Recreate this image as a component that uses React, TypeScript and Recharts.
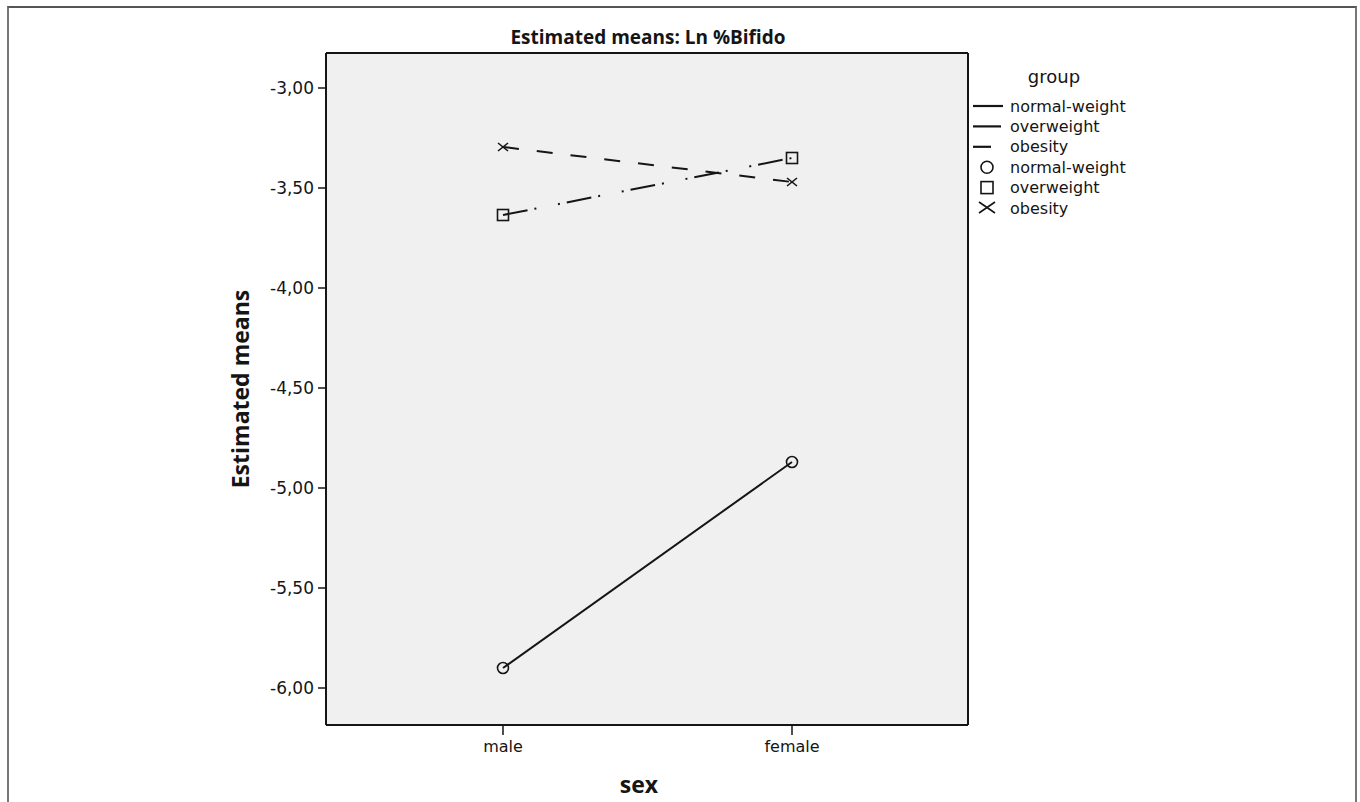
import React from 'react';
import { LineChart, Line, XAxis, YAxis, CartesianGrid } from 'recharts';

// values
const sexes = ['male', 'female'];
const normalWeight = [-5.9, -4.87];
const overweight = [-3.635, -3.35];
const obesity = [-3.295, -3.47];
const yTicks = [-6, -5.5, -5, -4.5, -4, -3.5, -3];
const groups = ['normal-weight', 'overweight', 'obesity'];

const INK = '#151515';
const FONT = '"DejaVu Sans", Verdana, sans-serif';
const BOLD = '"Open Sans", "DejaVu Sans", sans-serif';

const data = sexes.map((sex, i) => ({
  sex,
  normal: normalWeight[i],
  over: overweight[i],
  obese: obesity[i],
}));

const dashes = ['', '25 7 2 22 2 7', '16 18'];

function CircleDot(props: any) {
  const { cx, cy } = props;
  if (cx == null || cy == null) return null;
  return <circle cx={cx} cy={cy} r={5.5} fill="none" stroke={INK} strokeWidth={1.6} />;
}

function SquareDot(props: any) {
  const { cx, cy } = props;
  if (cx == null || cy == null) return null;
  return <rect x={cx - 5.5} y={cy - 5.5} width={11} height={11} fill="none" stroke={INK} strokeWidth={1.6} />;
}

function CrossDot(props: any) {
  const { cx, cy } = props;
  if (cx == null || cy == null) return null;
  return (
    <g stroke={INK} strokeWidth={1.6}>
      <line x1={cx - 5} y1={cy - 4} x2={cx + 5} y2={cy + 4} />
      <line x1={cx - 5} y1={cy + 4} x2={cx + 5} y2={cy - 4} />
    </g>
  );
}

const fmt = (v: number) => v.toFixed(2).replace('.', ',');

function LegendBox() {
  const rowY = (i: number) => 106 + i * 20.4;
  return (
    <svg width={220} height={240} style={{ position: 'absolute', left: 960, top: 0 }}>
      <text x={94} y={76} textAnchor="middle" dominantBaseline="central" fontFamily={FONT} fontSize={18} fill={INK}>
        group
      </text>
      {groups.map((g, i) => (
        <g key={'l' + g}>
          <line
            x1={13}
            x2={i === 2 ? 31 : i === 1 ? 41 : 43}
            y1={rowY(i)}
            y2={rowY(i)}
            stroke={INK}
            strokeWidth={2.2}
            strokeDasharray={i === 1 ? '28 4 2 30' : undefined}
          />
          <text x={50} y={rowY(i)} dominantBaseline="central" fontFamily={FONT} fontSize={16} fill={INK}>
            {g}
          </text>
        </g>
      ))}
      {groups.map((g, i) => {
        const y = rowY(i + 3);
        return (
          <g key={'m' + g}>
            {i === 0 && <circle cx={27} cy={y} r={6} fill="none" stroke={INK} strokeWidth={1.6} />}
            {i === 1 && <rect x={21} y={y - 6} width={12} height={12} fill="none" stroke={INK} strokeWidth={1.6} />}
            {i === 2 && (
              <g stroke={INK} strokeWidth={1.6}>
                <line x1={19} y1={y - 6} x2={35} y2={y + 5} />
                <line x1={19} y1={y + 5} x2={35} y2={y - 6} />
              </g>
            )}
            <text x={50} y={y} dominantBaseline="central" fontFamily={FONT} fontSize={16} fill={INK}>
              {g}
            </text>
          </g>
        );
      })}
    </svg>
  );
}

export default function App() {
  return (
    <div style={{ position: 'absolute', left: 0, top: 0, width: 1360, height: 802, background: '#fff', overflow: 'hidden' }}>
      {/* outer frame of the exported figure */}
      <div
        style={{
          position: 'absolute',
          left: 7,
          top: 6,
          width: 1346,
          height: 820,
          borderLeft: '2px solid #777',
          borderTop: '2px solid #555',
          borderRight: '2px solid #777',
        }}
      />
      <div style={{ position: 'absolute', left: 0, top: 0 }}>
        <LineChart width={1360} height={802} data={data} margin={{ top: 53, right: 392, bottom: 37, left: 266 }}>
          <CartesianGrid
            fill="#f0f0f0"
            stroke={INK}
            strokeWidth={2}
            horizontalCoordinatesGenerator={({ offset }: any) => [offset.top, offset.top + offset.height]}
            verticalCoordinatesGenerator={({ offset }: any) => [offset.left, offset.left + offset.width]}
          />
          <XAxis
            dataKey="sex"
            padding={{ left: 177, right: 176 }}
            height={40}
            tickSize={10}
            tickMargin={6}
            axisLine={{ stroke: INK, strokeWidth: 2 }}
            tickLine={{ stroke: INK, strokeWidth: 1.5 }}
            tick={{ fill: INK, fontSize: 16, fontFamily: FONT }}
          />
          <YAxis
            domain={[-6.185, -2.825]}
            ticks={yTicks}
            width={60}
            tickSize={8}
            tickMargin={4}
            tickFormatter={fmt}
            axisLine={{ stroke: INK, strokeWidth: 2 }}
            tickLine={{ stroke: INK, strokeWidth: 1.5 }}
            tick={{ fill: INK, fontSize: 17, fontFamily: FONT }}
            allowDataOverflow
          />
          <Line dataKey="normal" stroke={INK} strokeWidth={2} dot={<CircleDot />} activeDot={false} isAnimationActive={false} />
          <Line
            dataKey="over"
            stroke={INK}
            strokeWidth={2}
            strokeDasharray={dashes[1]}
            dot={<SquareDot />}
            activeDot={false}
            isAnimationActive={false}
          />
          <Line
            dataKey="obese"
            stroke={INK}
            strokeWidth={2}
            strokeDasharray={dashes[2]}
            dot={<CrossDot />}
            activeDot={false}
            isAnimationActive={false}
          />
        </LineChart>
      </div>
      <div
        style={{
          position: 'absolute',
          left: 348,
          width: 600,
          top: 24,
          textAlign: 'center',
          fontFamily: BOLD,
          fontWeight: 700,
          fontSize: 19,
          color: INK,
        }}
      >
        Estimated means: Ln %Bifido
      </div>
      <div
        style={{
          position: 'absolute',
          left: 240 - 150,
          top: 389 - 16,
          width: 300,
          height: 32,
          lineHeight: '32px',
          textAlign: 'center',
          transform: 'rotate(-90deg)',
          fontFamily: BOLD,
          fontWeight: 700,
          fontSize: 23,
          color: INK,
        }}
      >
        Estimated means
      </div>
      <div
        style={{
          position: 'absolute',
          left: 539,
          width: 200,
          top: 768,
          textAlign: 'center',
          fontFamily: BOLD,
          fontWeight: 700,
          fontSize: 23,
          color: INK,
        }}
      >
        sex
      </div>
      <LegendBox />
    </div>
  );
}
